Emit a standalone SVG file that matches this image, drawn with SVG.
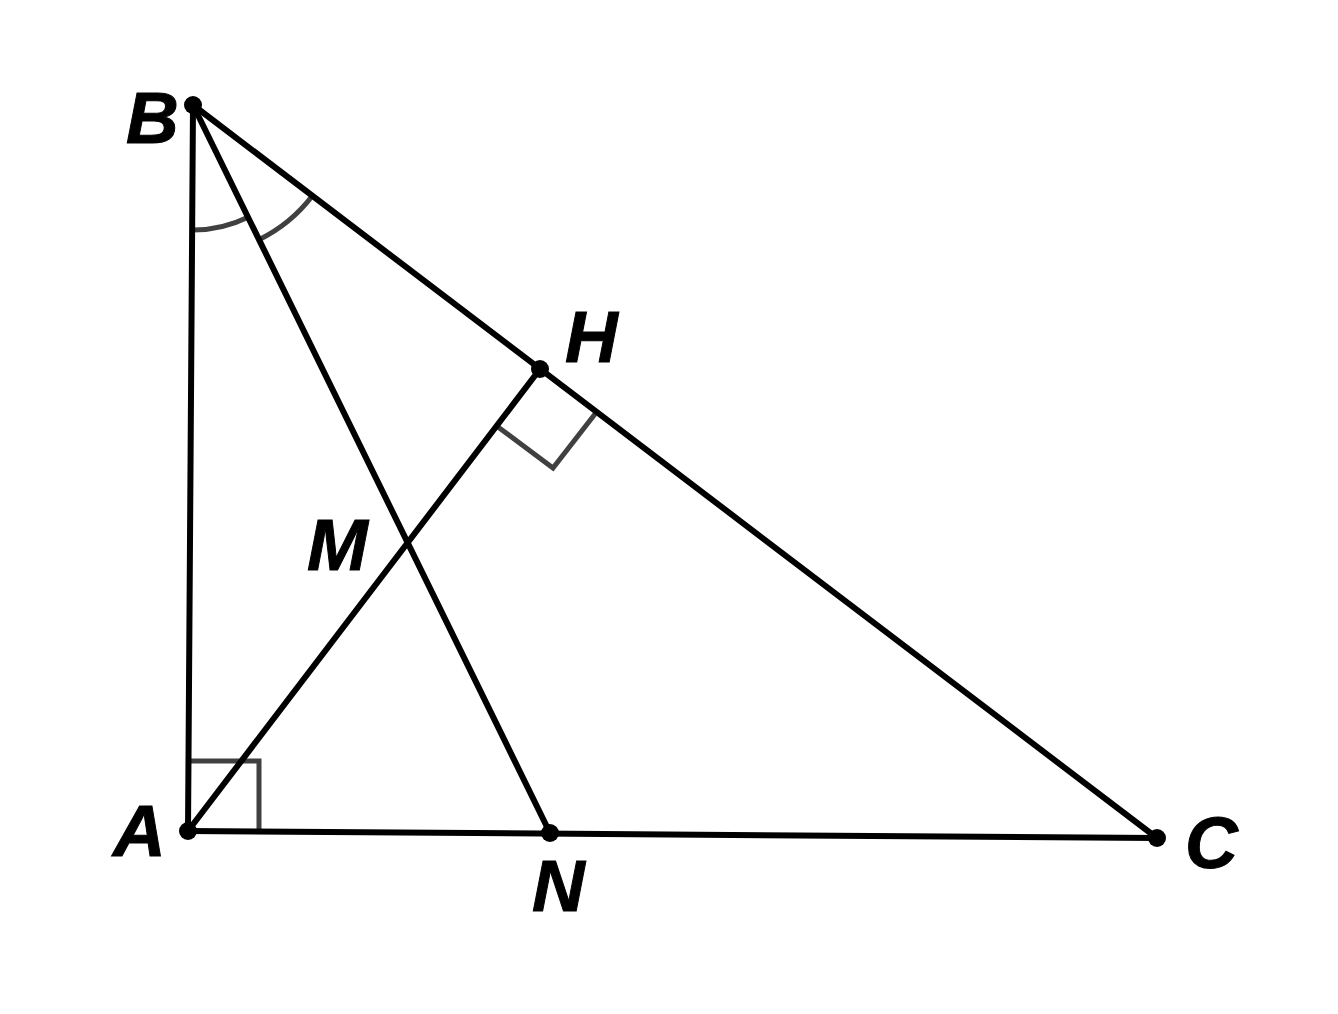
<svg xmlns="http://www.w3.org/2000/svg" width="1338" height="1014" viewBox="0 0 1338 1014">
<style>
.seg{stroke:#000;stroke-width:6;fill:none;stroke-linecap:round}
.mark{stroke:#404040;stroke-width:5;fill:none}
.pt{fill:#000}
.lbl{font-family:"Liberation Sans",Arial,sans-serif;font-weight:bold;font-style:italic;font-size:73px;fill:#000;stroke:#000;stroke-width:1}
</style>
<rect width="1338" height="1014" fill="#fff"/>
<g id="marks">
<polyline class="mark" points="188,761 259,761 259,831"/>
<polyline class="mark" points="498,427 553,468 595,414"/>
<path class="mark" d="M192.1,230 A125,125 0 0 0 248,217.2"/>
<path class="mark" d="M259,239.7 A150,150 0 0 0 312.4,195.8"/>
</g>
<g id="connectors">
<line class="seg" x1="193" y1="105" x2="188" y2="831"/>
<line class="seg" x1="193" y1="105" x2="1157" y2="838"/>
<line class="seg" x1="188" y1="831" x2="1157" y2="838"/>
<line class="seg" x1="193" y1="105" x2="550" y2="833"/>
<line class="seg" x1="188" y1="831" x2="540" y2="369"/>
</g>
<g id="B"><circle class="pt" cx="193" cy="105" r="9"/><text class="lbl" x="126" y="143">B</text></g>
<g id="A"><circle class="pt" cx="188" cy="831" r="9"/><text class="lbl" x="113" y="856">A</text></g>
<g id="C"><circle class="pt" cx="1157" cy="838" r="9"/><text class="lbl" x="1185" y="868">C</text></g>
<g id="H"><circle class="pt" cx="540" cy="369" r="9"/><text class="lbl" x="565" y="362">H</text></g>
<g id="N"><circle class="pt" cx="550" cy="833" r="9"/><text class="lbl" x="532" y="911">N</text></g>
<g id="M"><text class="lbl" x="307" y="570">M</text></g>
</svg>
